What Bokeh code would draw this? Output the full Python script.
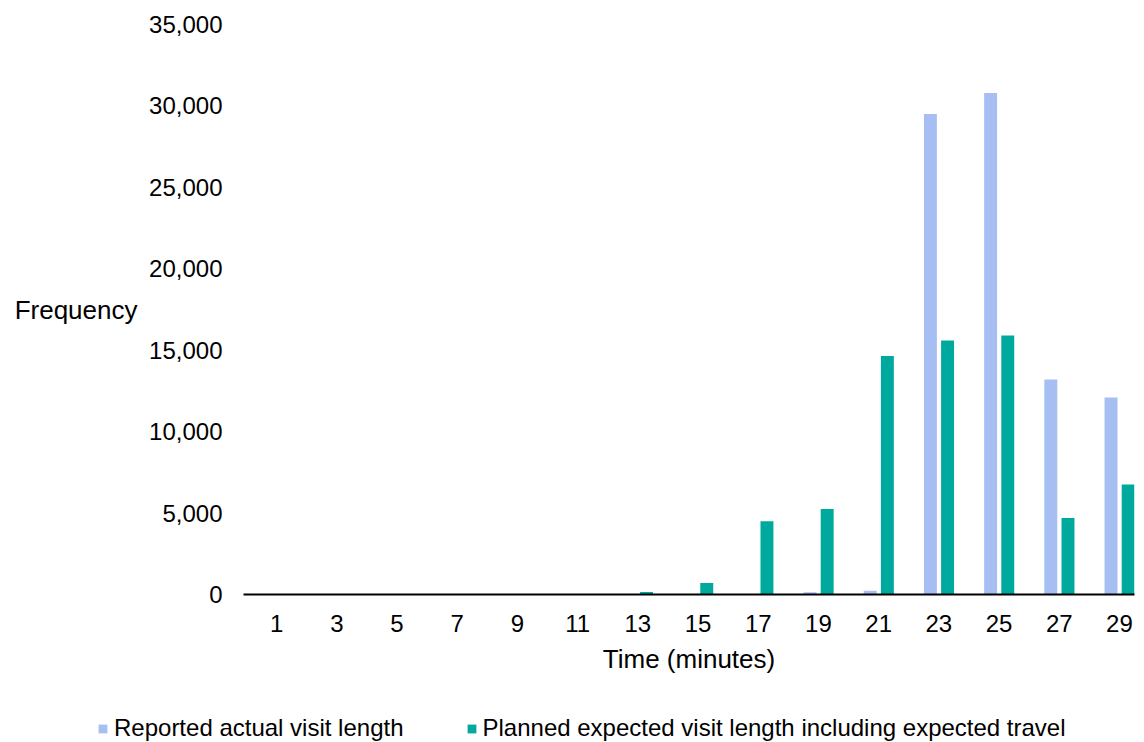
from bokeh.plotting import figure
from bokeh.models import (Range1d, FixedTicker, NumeralTickFormatter, Legend,
                          LegendItem, LinearAxis, ColumnDataSource)
from bokeh.layouts import column, row
from bokeh.transform import dodge
from bokeh.embed import file_html
from bokeh.resources import INLINE

# ---- data ----
times = [1, 3, 5, 7, 9, 11, 13, 15, 17, 19, 21, 23, 25, 27, 29]
reported = [0, 0, 0, 0, 0, 0, 0, 0, 0, 140, 230, 29500, 30800, 13200, 12100]
planned = [0, 0, 0, 0, 0, 0, 150, 700, 4500, 5250, 14650, 15600, 15900, 4700, 6750]
series_names = ["Reported actual visit length",
                "Planned expected visit length including expected travel"]
colors = ["#A6BEF1", "#00A99D"]
y_ticks = [0, 5000, 10000, 15000, 20000, 25000, 30000, 35000]
x_title = "Time (minutes)"
y_title = "Frequency"

FONT = "Liberation Sans"

src = ColumnDataSource(dict(x=times, reported=reported, planned=planned))

x_start, x_end = -0.1, 29.5
y_start, y_end = 0, 35000
p = figure(width=1144, height=700, output_backend="svg", toolbar_location=None,
           x_range=Range1d(x_start, x_end), y_range=Range1d(y_start, y_end),
           min_border_left=243, min_border_right=10, min_border_top=24,
           min_border_bottom=106)
p.outline_line_color = None
p.xgrid.visible = False
p.ygrid.visible = False
p.background_fill_color = "white"

r1 = p.vbar(x=dodge("x", -0.28, range=p.x_range), top="reported", width=0.43,
            source=src, fill_color=colors[0], line_color=None)
r2 = p.vbar(x=dodge("x", 0.29, range=p.x_range), top="planned", width=0.43,
            source=src, fill_color=colors[1], line_color=None)

# x axis
xa = p.xaxis[0]
xa.ticker = FixedTicker(ticks=times)
xa.axis_line_color = "black"
xa.axis_line_width = 2
xa.major_tick_line_color = None
xa.minor_tick_line_color = None
xa.major_label_text_font = FONT
xa.major_label_text_font_size = "24px"
xa.major_label_text_color = "#000000"
xa.major_label_standoff = 14
xa.axis_label = x_title
xa.axis_label_text_font = FONT
xa.axis_label_text_font_size = "26px"
xa.axis_label_text_font_style = "normal"
xa.axis_label_text_color = "#000000"
xa.axis_label_standoff = 9

# y axis
ya = p.yaxis[0]
ya.ticker = FixedTicker(ticks=y_ticks)
ya.formatter = NumeralTickFormatter(format="0,0")
ya.axis_line_color = None
ya.major_tick_line_color = None
ya.minor_tick_line_color = None
ya.major_label_text_font = FONT
ya.major_label_text_font_size = "24px"
ya.major_label_text_color = "#000000"
ya.major_label_standoff = 15

# horizontal y-axis title, drawn as the single label of an outer axis
mid = (y_start + y_end) / 2
ta = LinearAxis(ticker=FixedTicker(ticks=[mid]),
                major_label_overrides={mid: y_title},
                axis_line_color=None, major_tick_line_color=None,
                minor_tick_line_color=None, major_label_standoff=3,
                major_label_text_font=FONT, major_label_text_font_size="26px",
                major_label_text_color="#000000")
p.add_layout(ta, "left")

# ---- legend strip below the chart (its own small figure) ----
lg = figure(width=1144, height=42, output_backend="svg", toolbar_location=None,
            x_range=Range1d(0, 1), y_range=Range1d(10, 20),
            min_border_left=0, min_border_right=0, min_border_top=0,
            min_border_bottom=0, x_axis_location=None, y_axis_location=None)
lg.outline_line_color = None
lg.xgrid.visible = False
lg.ygrid.visible = False
l1 = lg.vbar(x="x", top="reported", bottom="reported", width=0.43, source=src,
             fill_color=colors[0], line_color=None)
l2 = lg.vbar(x="x", top="planned", bottom="planned", width=0.43, source=src,
             fill_color=colors[1], line_color=None)

legend = Legend(items=[LegendItem(label=series_names[0], renderers=[l1]),
                       LegendItem(label=series_names[1], renderers=[l2])],
                orientation="horizontal", location=(97, 0),
                border_line_color=None, background_fill_alpha=0,
                padding=0, margin=0, spacing=62, glyph_width=11, glyph_height=11,
                label_standoff=6, label_text_font=FONT,
                label_text_font_size="24px", label_text_color="#000000")
lg.add_layout(legend)

layout = column(row(p), row(lg), spacing=0)
open("out.html", "w").write(file_html(layout, INLINE))
